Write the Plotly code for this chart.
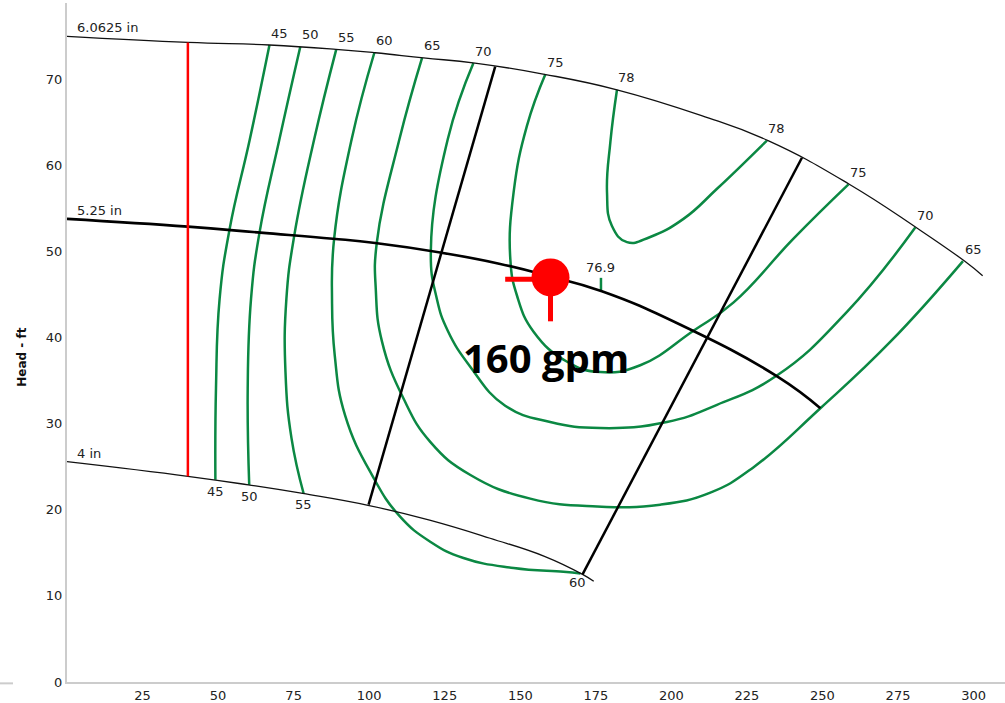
import plotly.graph_objects as go

# ---- impeller trim curves: flow (gpm) vs head (ft) ----
trim_names = ["6.0625 in", "5.25 in", "4 in"]

q_trim_max = [0, 40, 67, 89, 102, 118, 135, 158, 182, 210, 232, 259, 281, 297, 303]
h_trim_max = [75.0, 74.3, 74.0, 73.5, 73.1, 72.5, 71.9, 70.6, 68.8, 65.8, 62.9, 57.8, 52.8, 48.9, 47.2]

q_trim_mid = [0, 40, 64, 88, 102, 123.5, 143, 159, 177, 203, 235, 249.3]
h_trim_mid = [53.8, 52.9, 52.2, 51.5, 51.0, 49.9, 48.6, 47.2, 45.4, 41.5, 35.5, 31.8]

q_trim_min = [0, 40, 60, 78, 100, 120, 140, 158, 170.6, 174.3]
h_trim_min = [25.6, 23.9, 22.9, 21.9, 20.5, 18.8, 16.7, 14.6, 12.5, 11.7]

# ---- iso-efficiency contours (%) ----
eff45_q = [67.0, 60.5, 53.8, 50.5, 49.3, 49.1]
eff45_h = [74.0, 63.05, 52.6, 44.5, 34.1, 23.5]

eff50_q = [77.2, 70.3, 63.7, 60.9, 59.8, 60.3]
eff50_h = [73.8, 63.05, 52.2, 44.5, 34.1, 22.9]

eff55_q = [89.1, 81.8, 75.2, 72.6, 72.3, 74.3, 78.3]
eff55_h = [73.5, 63.05, 51.85, 44.5, 36.0, 28.3, 21.9]

eff60_q = [101.7, 94.2, 88.4, 87.7, 88.6, 92.0, 101.0, 110.0, 120.2, 131.2, 147.8, 164.3, 169.9]
eff60_h = [73.1, 63.05, 51.5, 44.5, 37.95, 31.0, 24.0, 19.3, 16.3, 14.4, 13.25, 12.8, 12.6]

eff65_q = [117.5, 110.0, 102.5, 102.2, 104.2, 111.4, 120.2, 133.5, 153.3, 175.4, 196.3, 212.9, 227.0, 249.3, 272.4, 296.5]
eff65_h = [72.5, 63.05, 51.0, 45.5, 39.6, 32.9, 27.9, 24.05, 21.3, 20.4, 20.6, 22.0, 24.9, 31.8, 39.5, 48.9]

eff70_q = [134.5, 126.0, 120.4, 122.4, 126.0, 133.5, 145.0, 159.9, 176.5, 198.5, 215.1, 234.9, 258.1, 280.7]
eff70_h = [71.9, 63.05, 50.1, 44.5, 40.8, 36.6, 32.1, 30.2, 29.5, 30.2, 32.2, 35.6, 43.0, 52.8]

eff75_q = [158.3, 152.2, 147.8, 146.7, 148.9, 154.4, 165.5, 176.5, 189.7, 207.3, 220.6, 240.4, 258.6]
eff75_h = [70.6, 64.6, 56.9, 49.15, 44.9, 40.7, 37.2, 36.0, 36.8, 40.8, 44.1, 51.5, 57.8]

eff78_q = [182.0, 179.8, 178.7, 180.3, 185.3, 193.0, 204.0, 215.1, 231.6]
eff78_h = [68.8, 62.7, 56.9, 53.0, 51.1, 51.7, 53.8, 57.3, 62.9]

# ---- preferred operating region boundaries ----
por_left_q = [99.8, 141.7]
por_left_h = [20.6, 71.5]
por_right_q = [170.6, 243.2]
por_right_h = [12.5, 60.9]

# ---- minimum continuous flow ----
min_flow_q = 40
min_flow_h = [23.9, 74.3]

# ---- best efficiency point on the selected trim ----
bep_q = 176.7
bep_eff = 76.9
bep_h = [45.4, 46.95]

# ---- duty point ----
op_q = 160
op_h = 47.0
op_label = "160 gpm"

x_ticks = [25, 50, 75, 100, 125, 150, 175, 200, 225, 250, 275, 300]
y_ticks = [0, 10, 20, 30, 40, 50, 60, 70]

GREEN = "#0b8843"
LABEL_FONT = dict(family="DejaVu Sans, Verdana, sans-serif", size=13, color="#222")

fig = go.Figure()


def add_curve(q, h, color, width):
    fig.add_trace(go.Scatter(
        x=q, y=h, mode="lines",
        line=dict(color=color, width=width, shape="spline", smoothing=1.3),
        hoverinfo="skip", showlegend=False,
    ))


contours = [
    (45, eff45_q, eff45_h), (50, eff50_q, eff50_h), (55, eff55_q, eff55_h),
    (60, eff60_q, eff60_h), (65, eff65_q, eff65_h), (70, eff70_q, eff70_h),
    (75, eff75_q, eff75_h), (78, eff78_q, eff78_h),
]
for val, q, h in contours:
    add_curve(q, h, GREEN, 2.5)

# BEP marker tick
fig.add_trace(go.Scatter(x=[bep_q, bep_q], y=bep_h, mode="lines",
                         line=dict(color=GREEN, width=2.5),
                         hoverinfo="skip", showlegend=False))

# impeller trims
add_curve(q_trim_max, h_trim_max, "#111", 1.3)
add_curve(q_trim_mid, h_trim_mid, "#000", 2.6)
add_curve(q_trim_min, h_trim_min, "#111", 1.3)

# POR lines
add_curve(por_left_q, por_left_h, "#000", 2.5)
add_curve(por_right_q, por_right_h, "#000", 2.5)

# minimum flow line
fig.add_trace(go.Scatter(x=[min_flow_q, min_flow_q], y=min_flow_h, mode="lines",
                         line=dict(color="#ff0000", width=2.5),
                         hoverinfo="skip", showlegend=False))

# duty point with leader ticks
fig.add_trace(go.Scatter(x=[145, op_q], y=[op_h - 0.2, op_h - 0.2], mode="lines",
                         line=dict(color="#ff0000", width=5),
                         hoverinfo="skip", showlegend=False))
fig.add_trace(go.Scatter(x=[op_q, op_q], y=[41.9, op_h], mode="lines",
                         line=dict(color="#ff0000", width=5),
                         hoverinfo="skip", showlegend=False))
fig.add_trace(go.Scatter(x=[op_q], y=[op_h], mode="markers",
                         marker=dict(color="#ff0000", size=38),
                         hoverinfo="skip", showlegend=False))

annotations = []

# contour value labels at both ends
for val, q, h in contours:
    for qe, he in ((q[0], h[0]), (q[-1], h[-1])):
        if he > 40:
            annotations.append(dict(x=qe, y=he, text=str(val), showarrow=False,
                                    xanchor="center", yanchor="middle",
                                    xshift=10, yshift=12, font=LABEL_FONT))
        elif val == 60:
            annotations.append(dict(x=qe, y=he, text=str(val), showarrow=False,
                                    xanchor="center", yanchor="middle",
                                    xshift=-3, yshift=-9, font=LABEL_FONT))
        else:
            annotations.append(dict(x=qe, y=he, text=str(val), showarrow=False,
                                    xanchor="center", yanchor="middle",
                                    xshift=0, yshift=-11.5, font=LABEL_FONT))

# BEP efficiency label
annotations.append(dict(x=bep_q, y=bep_h[1], text=f"{bep_eff}", showarrow=False,
                        xanchor="center", yanchor="middle", yshift=10, font=LABEL_FONT))

# trim diameter labels
for name, q, h in ((trim_names[0], q_trim_max, h_trim_max),
                   (trim_names[1], q_trim_mid, h_trim_mid),
                   (trim_names[2], q_trim_min, h_trim_min)):
    annotations.append(dict(x=q[0], y=h[0], text=name, showarrow=False,
                            xanchor="left", yanchor="middle",
                            xshift=8, yshift=8.5, font=LABEL_FONT))

# duty point flow label
annotations.append(dict(x=op_q, y=op_h, text=f"<b>{op_label}</b>", showarrow=False,
                        xanchor="center", yanchor="middle",
                        xshift=-5, yshift=-80,
                        font=dict(family="Open Sans, Arial, sans-serif", size=40, color="#000")))

# axis title
annotations.append(dict(xref="paper", yref="paper", x=-0.048, y=0.479,
                        text="<b>Head - ft</b>", textangle=-90, showarrow=False,
                        xanchor="center", yanchor="middle",
                        font=dict(family="DejaVu Sans, Verdana, sans-serif", size=12, color="#111")))

fig.update_layout(
    width=1005, height=703,
    margin=dict(l=67, r=0, t=3, b=19),
    paper_bgcolor="white", plot_bgcolor="white",
    showlegend=False,
    annotations=annotations,
    shapes=[dict(type="line", xref="paper", yref="paper",
                 x0=-67 / 938, x1=-54 / 938, y0=-0.002, y1=-0.002,
                 line=dict(color="#cccccc", width=2))],
    font=LABEL_FONT,
)
fig.update_xaxes(range=[0, 310.4], tickvals=x_ticks, ticks="", showgrid=False,
                 zeroline=False, showline=True, linecolor="#cccccc", linewidth=2,
                 tickfont=LABEL_FONT, fixedrange=True)
fig.update_yaxes(range=[0, 78.88], tickvals=y_ticks, ticks="", showgrid=False,
                 zeroline=False, showline=True, linecolor="#cccccc", linewidth=2,
                 tickfont=LABEL_FONT, fixedrange=True)

fig.write_html("out.html")
